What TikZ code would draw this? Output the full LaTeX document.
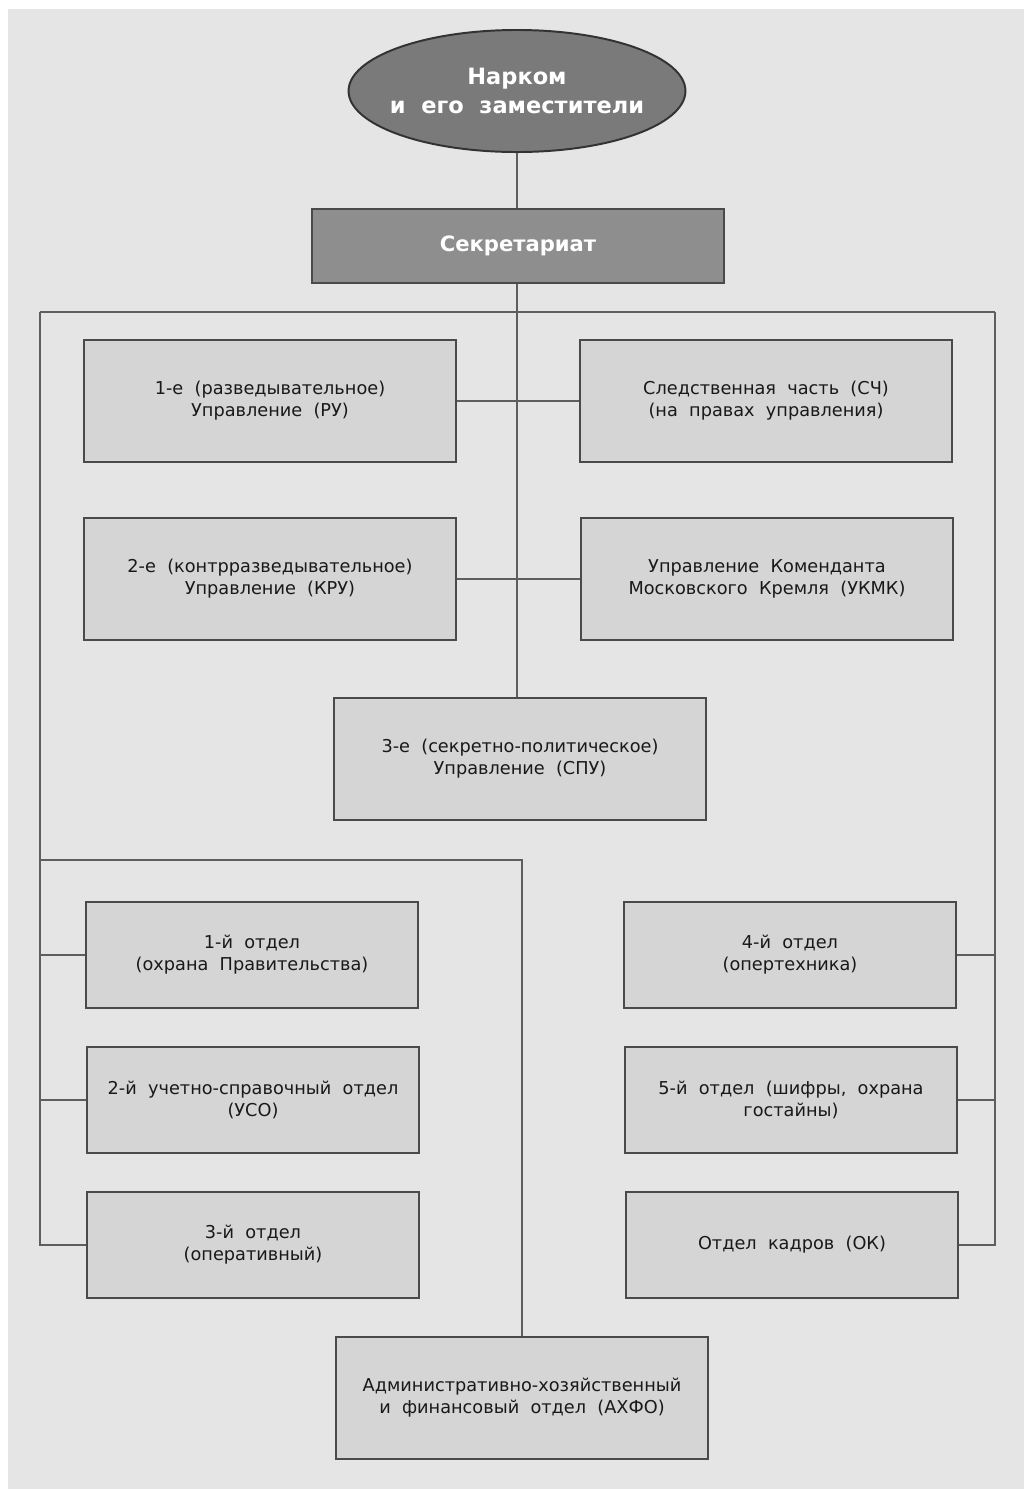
\documentclass[tikz,border=0pt]{standalone}
\usepackage{fontspec}
\setmainfont{DejaVu Sans}
\usetikzlibrary{shapes.geometric}
\definecolor{pagegray}{HTML}{E5E5E5}
\definecolor{boxgray}{HTML}{D5D5D5}
\definecolor{topgray}{HTML}{7A7A7A}
\definecolor{secgray}{HTML}{8E8E8E}
\definecolor{edgegray}{HTML}{4A4A4A}
\definecolor{linkgray}{HTML}{5E5E5E}
\begin{document}
\begin{tikzpicture}[x=0.025cm, y=-0.025cm,
    every node/.style={font=\fontsize{12.6}{15.6}\selectfont, text=black!90, align=center, inner sep=0pt},
    dept/.style={rectangle, draw=edgegray, line width=1.6pt, fill=boxgray},
    bigdept/.style={dept, minimum width=9.3cm, minimum height=3.05cm},
    smalldept/.style={dept, minimum width=8.28cm, minimum height=2.65cm},
    link/.style={draw=linkgray, line width=1pt}]

    % Background
    \fill[white] (0, 0) rectangle (1024, 1489);
    \fill[pagegray] (8, 9) rectangle (1024, 1489);

    % Nodes
    \node[ellipse, draw=black!80, line width=1.4pt, fill=topgray, inner xsep=-0.4cm, minimum width=8.42cm, minimum height=3.05cm,
          font=\bfseries\fontsize{16}{20.5}\selectfont, text=white] at (517, 91)  (head)  {Нарком\\и\ \ его\ \ заместители};
    \node[rectangle, draw=edgegray, line width=1.4pt, fill=secgray, minimum width=10.3cm, minimum height=1.85cm,
          font=\bfseries\fontsize{15}{20.5}\selectfont, text=white] at (518, 246) (secr)  {Секретариат};

    \node[bigdept] at (270, 401)  (ru)    {1-е\ \ (разведывательное)\\Управление\ \ (РУ)};
    \node[bigdept] at (766, 401)  (sch)   {Следственная\ \ часть\ \ (СЧ)\\(на\ \ правах\ \ управления)};
    \node[bigdept] at (270, 579)  (kru)   {2-е\ \ (контрразведывательное)\\Управление\ \ (КРУ)};
    \node[bigdept] at (767, 579)  (ukmk)  {Управление\ \ Коменданта\\Московского\ \ Кремля\ \ (УКМК)};
    \node[bigdept] at (520, 759)  (spu)   {3-е\ \ (секретно-политическое)\\Управление\ \ (СПУ)};

    \node[smalldept] at (252, 955)  (otd1)  {1-й\ \ отдел\\(охрана\ \ Правительства)};
    \node[smalldept] at (253, 1100) (otd2)  {2-й\ \ учетно-справочный\ \ отдел\\(УСО)};
    \node[smalldept] at (253, 1245) (otd3)  {3-й\ \ отдел\\(оперативный)};
    \node[smalldept] at (790, 955)  (otd4)  {4-й\ \ отдел\\(опертехника)};
    \node[smalldept] at (791, 1100) (otd5)  {5-й\ \ отдел\ \ (шифры,\ \ охрана\\гостайны)};
    \node[smalldept] at (792, 1245) (ok)    {Отдел\ \ кадров\ \ (ОК)};

    \node[bigdept] at (522, 1398) (axfo)  {Административно-хозяйственный\\и\ \ финансовый\ \ отдел\ \ (АХФО)};

    \coordinate (lt) at (40, 312);
    \coordinate (rt) at (995, 312);
    \coordinate (lb) at (40, 860);

    % Connectors
    \draw[link] (head.south) -- (head.south |- secr.north);
    \draw[link] (head.south |- secr.south) -- (head.south |- spu.north);
    \draw[link] (lt) -- (rt);
    \draw[link] (ru) -- (sch);
    \draw[link] (kru) -- (ukmk);

    \draw[link] (lt) |- (otd3.west);
    \draw[link] (otd1.west) -- (otd1.west -| lt);
    \draw[link] (otd2.west) -- (otd2.west -| lt);

    \draw[link] (rt) |- (ok.east);
    \draw[link] (otd4.east) -- (otd4.east -| rt);
    \draw[link] (otd5.east) -- (otd5.east -| rt);

    \draw[link] (lb) -| (axfo.north);

  \end{tikzpicture}
\end{document}
